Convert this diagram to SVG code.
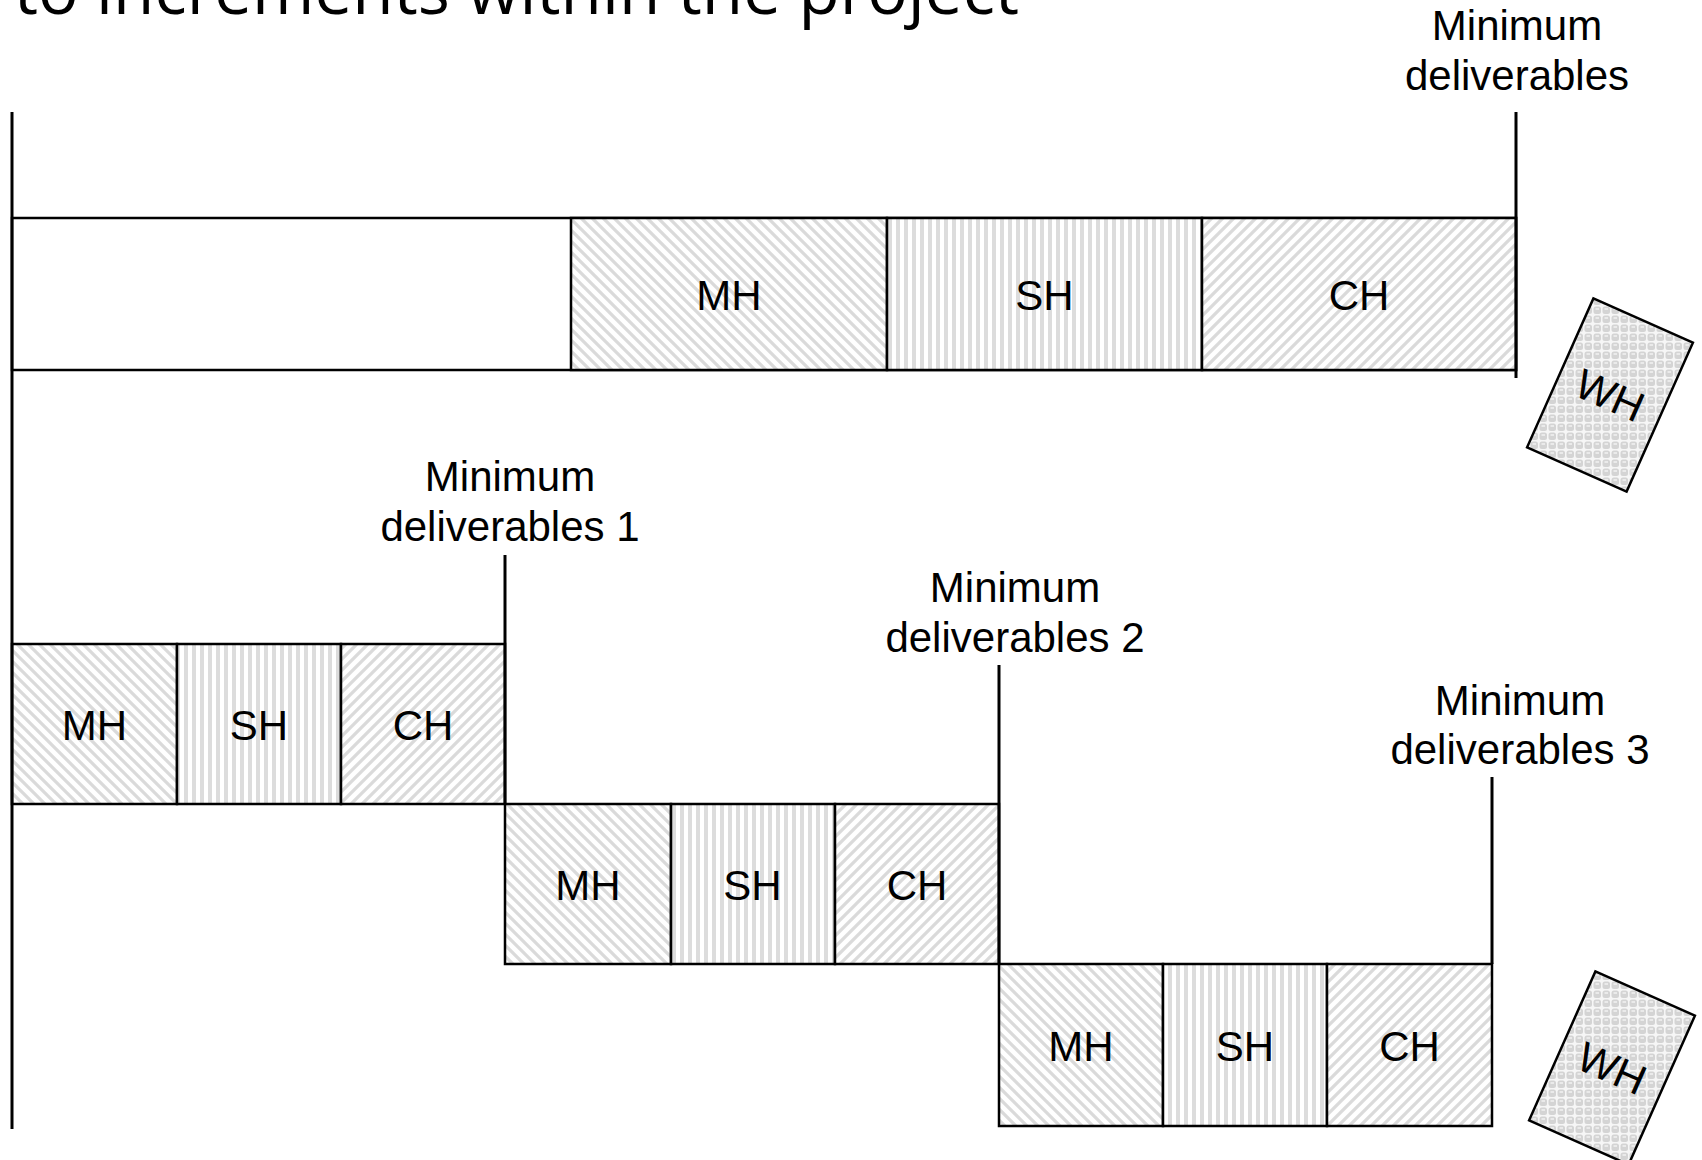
<svg xmlns="http://www.w3.org/2000/svg" width="1702" height="1160" viewBox="0 0 1702 1160">
  <defs>
    <!-- Must-have: downward diagonal hatch -->
    <pattern id="pat-must" patternUnits="userSpaceOnUse" width="11" height="11">
      <rect width="11" height="11" fill="#ffffff"/>
      <path d="M-3,-3 L14,14 M-3,8 L3,14 M8,-3 L14,3" stroke="#dadada" stroke-width="3.2"/>
    </pattern>
    <!-- Should-have: vertical stripes -->
    <pattern id="pat-should" patternUnits="userSpaceOnUse" width="8" height="8">
      <rect width="8" height="8" fill="#ffffff"/>
      <rect x="0" y="0" width="4" height="8" fill="#dcdcdc"/>
    </pattern>
    <!-- Could-have: upward diagonal hatch -->
    <pattern id="pat-could" patternUnits="userSpaceOnUse" width="11" height="11">
      <rect width="11" height="11" fill="#ffffff"/>
      <path d="M-3,14 L14,-3 M-3,3 L3,-3 M8,14 L14,8" stroke="#dadada" stroke-width="3.2"/>
    </pattern>
    <!-- Won't-have: sphere checker -->
    <pattern id="pat-wont" patternUnits="userSpaceOnUse" width="9" height="9">
      <rect width="9" height="9" fill="#f6f6f6"/>
      <rect x="0.5" y="0.5" width="7.5" height="7.5" rx="2.5" fill="#d4d4d4"/>
      <rect x="2.5" y="2.2" width="3.5" height="1.6" fill="#f0f0f0"/>
    </pattern>
    <style>
      .edge { stroke: #000; stroke-width: 2.5; }
      .lane { fill: #ffffff; stroke: #000; stroke-width: 2.5; }
      .must { fill: url(#pat-must); }
      .should { fill: url(#pat-should); }
      .could { fill: url(#pat-could); }
      .wont { fill: url(#pat-wont); stroke: #000; stroke-width: 2.5; }
      .lbl { font-family: "Liberation Sans", Arial, sans-serif; font-size: 42px; fill: #000; text-anchor: middle; }
      .title { font-family: "Open Sans", "Noto Sans", sans-serif; font-size: 68px; fill: #000; }
      .rule { stroke: #000; stroke-width: 3; fill: none; }
    </style>
  </defs>

  <rect width="1702" height="1160" fill="#ffffff"/>

  <!-- heading, partly above the visible area -->
  <text class="title" x="14" y="14" textLength="1005" lengthAdjust="spacingAndGlyphs">to increments within the project</text>

  <!-- whole-project plan -->
  <g id="plan-project">
    <rect class="lane" x="12" y="218" width="1504" height="152"/>
    <rect class="must edge" x="571" y="218" width="316" height="152"/>
    <rect class="should edge" x="887" y="218" width="315" height="152"/>
    <rect class="could edge" x="1202" y="218" width="314" height="152"/>
    <text class="lbl" x="729" y="310">MH</text>
    <text class="lbl" x="1044.5" y="310">SH</text>
    <text class="lbl" x="1359" y="310">CH</text>
  </g>

  <g id="wont-project">
    <polygon class="wont" points="1593.4,298.4 1692.9,342.7 1626.6,491.6 1527.1,447.3"/>
    <text class="lbl" transform="translate(1610,395) rotate(24)" x="0" y="15">WH</text>
  </g>

  <!-- increment 1 -->
  <g id="increment-1">
    <rect class="must edge" x="12" y="644" width="165" height="160"/>
    <rect class="should edge" x="177" y="644" width="164" height="160"/>
    <rect class="could edge" x="341" y="644" width="164" height="160"/>
    <text class="lbl" x="94.5" y="740">MH</text>
    <text class="lbl" x="259" y="740">SH</text>
    <text class="lbl" x="423" y="740">CH</text>
  </g>

  <!-- increment 2 -->
  <g id="increment-2">
    <rect class="must edge" x="505" y="804" width="166" height="160"/>
    <rect class="should edge" x="671" y="804" width="164" height="160"/>
    <rect class="could edge" x="835" y="804" width="164" height="160"/>
    <text class="lbl" x="588" y="900">MH</text>
    <text class="lbl" x="752.5" y="900">SH</text>
    <text class="lbl" x="917" y="900">CH</text>
  </g>

  <!-- increment 3 -->
  <g id="increment-3">
    <rect class="must edge" x="999" y="964" width="164" height="162"/>
    <rect class="should edge" x="1163" y="964" width="164" height="162"/>
    <rect class="could edge" x="1327" y="964" width="165" height="162"/>
    <text class="lbl" x="1081" y="1061">MH</text>
    <text class="lbl" x="1245" y="1061">SH</text>
    <text class="lbl" x="1409.5" y="1061">CH</text>
  </g>

  <g id="wont-increments">
    <polygon class="wont" points="1595.4,971.4 1694.9,1015.7 1628.6,1164.6 1529.1,1120.3"/>
    <text class="lbl" transform="translate(1612,1068) rotate(24)" x="0" y="15">WH</text>
  </g>

  <!-- milestone labels -->
  <g id="milestone-project">
    <text class="lbl" x="1517" y="40">Minimum</text>
    <text class="lbl" x="1517" y="90">deliverables</text>
  </g>
  <g id="milestone-1">
    <text class="lbl" x="510" y="491">Minimum</text>
    <text class="lbl" x="510" y="541">deliverables 1</text>
  </g>
  <g id="milestone-2">
    <text class="lbl" x="1015" y="602">Minimum</text>
    <text class="lbl" x="1015" y="652">deliverables 2</text>
  </g>
  <g id="milestone-3">
    <text class="lbl" x="1520" y="715">Minimum</text>
    <text class="lbl" x="1520" y="764">deliverables 3</text>
  </g>

  <!-- time axis and milestone markers -->
  <g id="connectors">
    <line class="rule" x1="12" y1="112" x2="12" y2="1129"/>
    <line class="rule" x1="1516" y1="112" x2="1516" y2="378"/>
    <line class="rule" x1="505" y1="555" x2="505" y2="804"/>
    <line class="rule" x1="999" y1="665" x2="999" y2="964"/>
    <line class="rule" x1="1492" y1="777" x2="1492" y2="964"/>
  </g>
</svg>
